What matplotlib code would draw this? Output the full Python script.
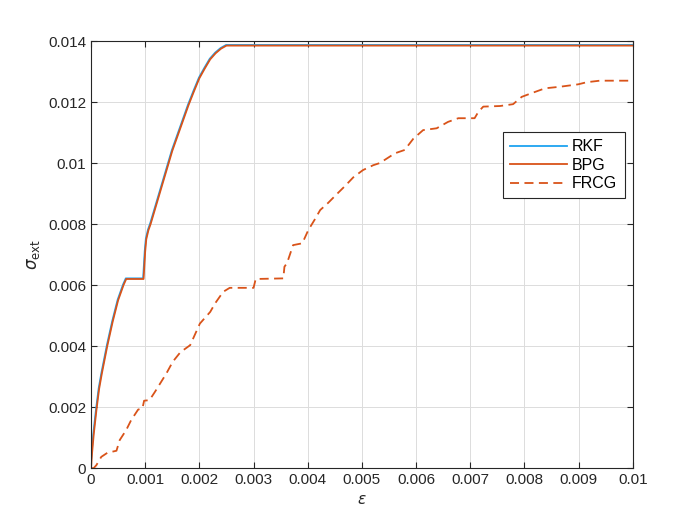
import numpy as np
import matplotlib.pyplot as plt

plt.rcParams['font.family'] = ['Liberation Sans', 'DejaVu Sans']
plt.rcParams['mathtext.fontset'] = 'dejavusans'

# RKF / BPG 曲线
eps_a = [0, 0.00002, 0.00005, 0.0001, 0.00015, 0.0002, 0.0003, 0.0004, 0.0005,
         0.0006, 0.00065, 0.00068, 0.00097, 0.001, 0.00102, 0.00106, 0.0011,
         0.0012, 0.0013, 0.0014, 0.0015, 0.0016, 0.0017, 0.0018, 0.0019, 0.002,
         0.0021, 0.0022, 0.0023, 0.0024, 0.0025, 0.0026, 0.01]
sig_a = [0, 0.0005, 0.0011, 0.0019, 0.0026, 0.0031, 0.0040, 0.0048, 0.0055,
         0.0060, 0.0062, 0.0062, 0.0062, 0.0071, 0.0075, 0.0078, 0.0080,
         0.0086, 0.0092, 0.0098, 0.0104, 0.0109, 0.0114, 0.0119, 0.01235, 0.01278,
         0.0131, 0.0134, 0.0136, 0.01375, 0.01385, 0.01385, 0.01385]

# FRCG 曲线
eps_b = [0, 0.00005, 0.0001, 0.00019, 0.0003, 0.00037, 0.00047, 0.00053, 0.00065,
         0.00074, 0.00087, 0.00095, 0.00098, 0.00108, 0.00118, 0.00139, 0.00151,
         0.00165, 0.00183, 0.00201, 0.0022, 0.00229, 0.00244, 0.00256, 0.003,
         0.00304, 0.00355, 0.00357, 0.00362, 0.00373, 0.0039, 0.00401, 0.00413,
         0.00423, 0.00438, 0.00453, 0.00469, 0.00484, 0.00502, 0.00521, 0.00533,
         0.00561, 0.00579, 0.00595, 0.00613, 0.00638, 0.00659, 0.00678, 0.00708,
         0.00715, 0.00724, 0.00755, 0.00779, 0.00795, 0.00813, 0.00838, 0.00865,
         0.00899, 0.00915, 0.00939, 0.01]
sig_b = [0, 0, 0.0001, 0.00037, 0.0005, 0.00053, 0.00057, 0.00092, 0.00125,
         0.00157, 0.00192, 0.00196, 0.00221, 0.00223, 0.0025, 0.0031, 0.00349,
         0.0038, 0.00403, 0.00474, 0.00512, 0.0054, 0.00578, 0.00591, 0.00591,
         0.0062, 0.00622, 0.0066, 0.00673, 0.00731, 0.00737, 0.0078, 0.00815,
         0.00846, 0.0087, 0.00897, 0.00925, 0.00953, 0.00977, 0.00993, 0.01,
         0.01032, 0.01043, 0.0108, 0.01108, 0.01114, 0.01135, 0.01147, 0.01147,
         0.01168, 0.01185, 0.01187, 0.01193, 0.01217, 0.01229, 0.01245, 0.0125,
         0.01258, 0.01265, 0.0127, 0.0127]

xticks = np.arange(0, 0.0101, 0.001)
xticklabels = ['0', '0.001', '0.002', '0.003', '0.004', '0.005', '0.006',
               '0.007', '0.008', '0.009', '0.01']
yticks = np.arange(0, 0.0141, 0.002)
yticklabels = ['0', '0.002', '0.004', '0.006', '0.008', '0.01', '0.012', '0.014']

blue = '#1CA3F0'
orange = '#D95319'

fig = plt.figure(figsize=(7, 5.26), dpi=100)
ax = fig.add_axes([0.13, 0.11, 0.774, 0.812])

ax.plot(np.array(eps_a) - 0.000008, np.array(sig_a) + 0.00002, color=blue, lw=1.3, label='RKF')
ax.plot(eps_a, sig_a, color=orange, lw=1.3, label='BPG')
ax.plot(eps_b, sig_b, color=orange, lw=1.3, ls=(0, (5, 3)), label='FRCG')

ax.set_xlim(0, 0.01)
ax.set_ylim(0, 0.014)
ax.set_xticks(xticks)
ax.set_xticklabels(xticklabels)
ax.set_yticks(yticks)
ax.set_yticklabels(yticklabels)
ax.tick_params(direction='in', top=True, right=True, labelsize=11, colors='#262626',
               length=4, width=0.8)
ax.grid(True, color='#dcdcdc', lw=0.7)
ax.set_axisbelow(True)
for s in ax.spines.values():
    s.set_color('#262626')
    s.set_linewidth(0.8)

ax.set_xlabel(r'$\epsilon$', fontsize=11, color='#262626')
ax.set_ylabel(r'$\sigma_{\mathrm{ext}}$', fontsize=12, color='#262626')

leg = ax.legend(loc='upper right', bbox_to_anchor=(0.985, 0.787), borderaxespad=0,
                fontsize=11.5, handlelength=3.6, fancybox=False, framealpha=1,
                edgecolor='#262626', borderpad=0.45, labelspacing=0.22, handletextpad=0.3)
leg.get_frame().set_linewidth(0.8)

fig.savefig('out.png', dpi=100)
